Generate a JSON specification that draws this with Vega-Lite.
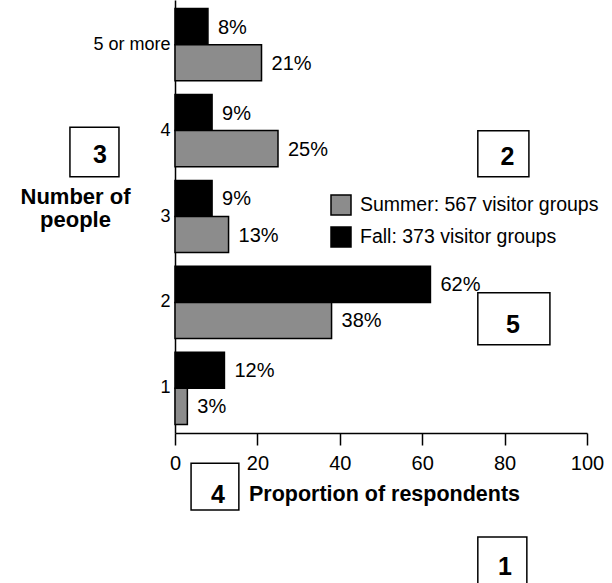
{
  "$schema": "https://vega.github.io/schema/vega-lite/v6.json",
  "width": 412,
  "height": 433,
  "autosize": {"type": "none"},
  "padding": {"left": 175, "top": 0, "right": 25, "bottom": 150},
  "background": "white",
  "config": {
    "font": "Liberation Sans",
    "view": {"stroke": null},
    "axis": {"domainColor": "black", "tickColor": "black", "labelColor": "black", "titleColor": "black", "grid": false, "domainWidth": 1.5, "tickWidth": 1.5},
    "legend": {"labelFont": "Liberation Sans"}
  },
  "datasets": {
    "bars": [
      {"people": "5 or more", "season": "Fall", "pct": 8},
      {"people": "5 or more", "season": "Summer", "pct": 21},
      {"people": "4", "season": "Fall", "pct": 9},
      {"people": "4", "season": "Summer", "pct": 25},
      {"people": "3", "season": "Fall", "pct": 9},
      {"people": "3", "season": "Summer", "pct": 13},
      {"people": "2", "season": "Fall", "pct": 62},
      {"people": "2", "season": "Summer", "pct": 38},
      {"people": "1", "season": "Fall", "pct": 12},
      {"people": "1", "season": "Summer", "pct": 3}
    ],
    "boxes": [
      {"label": "1", "x1": 73.5, "x2": 85.4, "y1": -1.20, "y2": -1.79, "tx": 80.1, "ty": -1.55},
      {"label": "2", "x1": 73.5, "x2": 85.9, "y1": 3.49, "y2": 2.96, "tx": 80.7, "ty": 3.19},
      {"label": "3", "x1": -25.5, "x2": -13.6, "y1": 3.53, "y2": 2.96, "tx": -18.2, "ty": 3.21},
      {"label": "4", "x1": 3.9, "x2": 15.5, "y1": -0.35, "y2": -0.89, "tx": 10.4, "ty": -0.72},
      {"label": "5", "x1": 73.5, "x2": 91.0, "y1": 1.62, "y2": 1.02, "tx": 82.0, "ty": 1.25}
    ]
  },
  "layer": [
    {
      "data": {"name": "bars"},
      "encoding": {
        "y": {
          "field": "people", "type": "nominal",
          "sort": ["5 or more", "4", "3", "2", "1"],
          "scale": {"paddingInner": 0.16, "paddingOuter": 0.1},
          "axis": {
            "title": ["Number of", "people"],
            "titleAngle": 0, "titleAlign": "center", "titleBaseline": "alphabetic",
            "titleX": -100, "titleY": 203, "titleLineHeight": 23,
            "titleFontSize": 22, "titleFontWeight": "bold",
            "ticks": false, "labelFontSize": 18, "labelPadding": 5, "labelFontWeight": "normal"
          }
        },
        "yOffset": {"field": "season", "type": "nominal", "sort": ["Fall", "Summer"], "scale": {"paddingInner": 0, "paddingOuter": 0}},
        "x": {
          "field": "pct", "type": "quantitative",
          "scale": {"domain": [0, 100], "nice": false},
          "axis": {
            "title": "Proportion of respondents", "values": [0, 20, 40, 60, 80, 100],
            "tickSize": 12, "labelFontSize": 20, "labelPadding": 8, "labelFlush": false, "labelOverlap": false,
            "titleFontSize": 21.5, "titleFontWeight": "bold", "titleBaseline": "alphabetic", "titleY": 67,
            "titleX": 209, "titleAlign": "center"
          }
        }
      },
      "layer": [
        {
          "mark": {"type": "bar", "stroke": "black", "strokeWidth": 1.5},
          "encoding": {
            "color": {
              "field": "season", "type": "nominal",
              "scale": {"domain": ["Summer", "Fall"], "range": ["#8c8c8c", "#000000"]},
              "legend": {
                "title": null, "orient": "none", "legendX": 155, "legendY": 194,
                "symbolType": "square", "symbolSize": 400, "symbolStrokeColor": "black", "symbolStrokeWidth": 1.5,
                "labelFontSize": 19.5, "labelOffset": 8, "rowPadding": 6, "padding": 0, "labelLimit": 0,
                "labelExpr": "datum.label == 'Summer' ? 'Summer: 567 visitor groups' : 'Fall: 373 visitor groups'"
              }
            }
          }
        },
        {
          "transform": [{"calculate": "datum.pct + '%'", "as": "lbl"}],
          "mark": {"type": "text", "align": "left", "baseline": "middle", "dx": 10, "dy": 1, "fontSize": 20, "color": "black"},
          "encoding": {"text": {"field": "lbl"}}
        }
      ]
    },
    {
      "data": {"name": "boxes"},
      "layer": [
        {
          "mark": {"type": "rect", "fill": null, "stroke": "black", "strokeWidth": 1.5},
          "encoding": {
            "x": {"field": "x1", "type": "quantitative", "scale": {"domain": [0, 100], "nice": false}, "axis": null},
            "x2": {"field": "x2"},
            "y": {"field": "y1", "type": "quantitative", "scale": {"domain": [0, 5], "nice": false}, "axis": null},
            "y2": {"field": "y2"}
          }
        },
        {
          "mark": {"type": "text", "align": "center", "baseline": "middle", "fontSize": 25, "fontWeight": "bold", "color": "black"},
          "encoding": {
            "x": {"field": "tx", "type": "quantitative", "scale": {"domain": [0, 100], "nice": false}, "axis": null},
            "y": {"field": "ty", "type": "quantitative", "scale": {"domain": [0, 5], "nice": false}, "axis": null},
            "text": {"field": "label"}
          }
        }
      ]
    }
  ],
  "resolve": {"scale": {"x": "independent", "y": "independent"}, "axis": {"x": "independent", "y": "independent"}}
}
